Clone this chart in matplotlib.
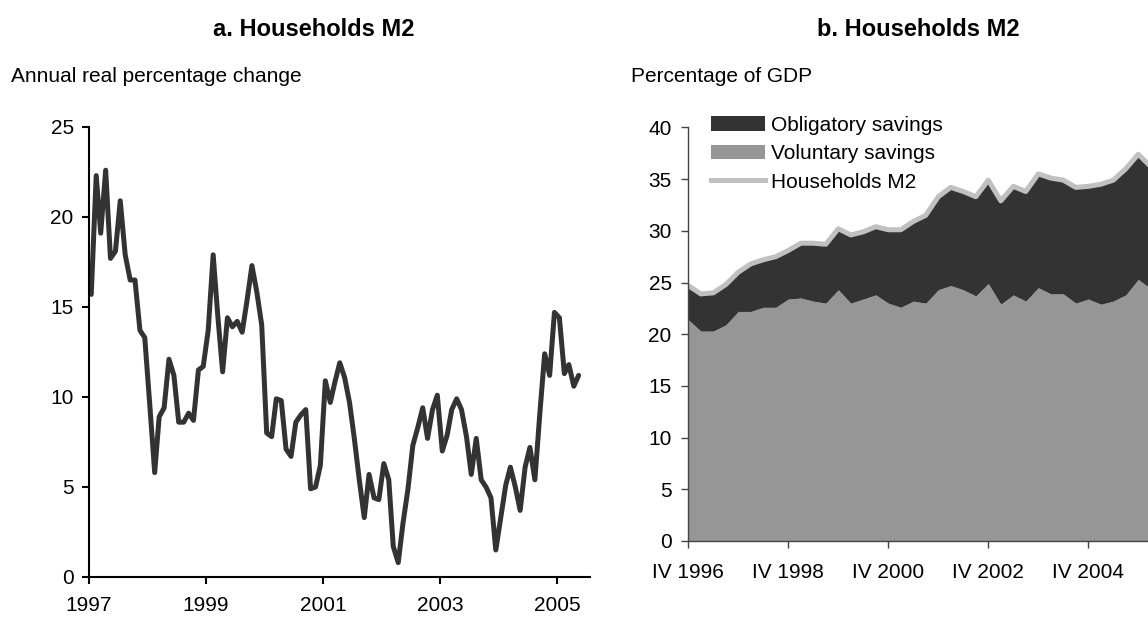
import numpy as np
import pandas as pd
import matplotlib
matplotlib.use('Agg')
import matplotlib.pyplot as plt
from matplotlib.patches import Patch
from matplotlib.lines import Line2D

plt.rcParams['font.family'] = ['Liberation Sans', 'DejaVu Sans']

# Panel a: annual real % change of households M2, monthly Jan 1997 - May 2005
m2_growth = [15.7, 22.3, 19.1, 22.6, 17.7, 18.1, 20.9, 17.9, 16.5, 16.5,
             13.7, 13.3, 9.6, 5.8, 8.9, 9.4, 12.1, 11.2, 8.6, 8.6,
             9.1, 8.7, 11.5, 11.7, 13.7, 17.9, 14.6, 11.4, 14.4, 13.9,
             14.2, 13.6, 15.4, 17.3, 15.8, 14.0, 8.0, 7.8, 9.9, 9.8,
             7.1, 6.7, 8.6, 9.0, 9.3, 4.9, 5.0, 6.2, 10.9, 9.7,
             10.8, 11.9, 11.1, 9.7, 7.7, 5.4, 3.3, 5.7, 4.4, 4.3,
             6.3, 5.4, 1.7, 0.8, 3.0, 4.9, 7.3, 8.3, 9.4, 7.7,
             9.3, 10.1, 7.0, 7.9, 9.3, 9.9, 9.3, 7.8, 5.7, 7.7,
             5.4, 5.0, 4.4, 1.5, 3.3, 5.1, 6.1, 5.0, 3.7, 6.1,
             7.2, 5.4, 9.1, 12.4, 11.2, 14.7, 14.4, 11.3, 11.8, 10.6,
             11.2]
months = pd.date_range('1997-01-01', periods=len(m2_growth), freq='MS') + pd.Timedelta(days=14)
year_ticks = ['1997', '1999', '2001', '2003', '2005']

# Panel b: % of GDP, quarterly from IV 1996
voluntary = [21.4, 20.3, 20.3, 20.9, 22.2, 22.2, 22.6, 22.6, 23.4, 23.5,
             23.2, 23.0, 24.3, 23.0, 23.4, 23.8, 23.0, 22.6, 23.2, 23.0,
             24.3, 24.7, 24.3, 23.7, 24.9, 22.9, 23.8, 23.2, 24.5, 23.9,
             23.9, 23.0, 23.4, 22.9, 23.2, 23.8, 25.3, 24.4]
households_m2 = [24.7, 23.9, 24.0, 24.8, 26.0, 26.8, 27.2, 27.5, 28.1, 28.8,
                 28.8, 28.7, 30.2, 29.6, 29.9, 30.4, 30.1, 30.1, 30.9, 31.5,
                 33.3, 34.2, 33.8, 33.3, 34.9, 32.9, 34.3, 33.8, 35.5, 35.1,
                 34.9, 34.2, 34.3, 34.5, 34.9, 36.0, 37.4, 36.2]
roman = ['IV', 'I', 'II', 'III']
quarters = [f"{roman[i % 4]} {1996 + (i + 3) // 4}" for i in range(len(voluntary))]

dark = '#333333'
mid = '#969696'
light = '#c0c0c0'

fig = plt.figure(figsize=(11.48, 6.17), dpi=100)

# ---- panel a
ax1 = fig.add_axes([89/1148, 40/617, 501/1148, 450/617])
ax1.plot(months, m2_growth, color=dark, lw=3.6, solid_joinstyle='round', solid_capstyle='round')
ax1.set_ylim(0, 25)
ax1.set_yticks(range(0, 26, 5))
ax1.set_xlim(pd.Timestamp('1997-01-01'), pd.Timestamp('2005-07-25'))
ax1.set_xticks([pd.Timestamp(y + '-01-01') for y in year_ticks])
ax1.set_xticklabels(year_ticks)
for s in ['top', 'right']:
    ax1.spines[s].set_visible(False)
for s in ['left', 'bottom']:
    ax1.spines[s].set_linewidth(1.5)
ax1.tick_params(axis='both', labelsize=15, length=5, width=1.5, direction='out')
ax1.tick_params(axis='y', pad=6)
ax1.tick_params(axis='x', pad=9)

# ---- panel b
x = np.arange(len(voluntary))
vol = np.array(voluntary)
tot = np.array(households_m2)
ax2 = fig.add_axes([688.3/1148, 76/617, 462.5/1148, 413.6/617])
ax2.fill_between(x, 0, vol, color=mid, lw=0)
ax2.fill_between(x, vol, tot, color=dark, lw=0)
ax2.plot(x, tot, color=light, lw=3.6, solid_joinstyle='round')
ax2.set_xlim(0, len(voluntary) - 1)
ax2.set_ylim(0, 40)
ax2.set_yticks(range(0, 41, 5))
tick_idx = [0, 8, 16, 24, 32]
ax2.set_xticks(tick_idx)
ax2.set_xticklabels([quarters[i] for i in tick_idx])
for s in ['top', 'right']:
    ax2.spines[s].set_visible(False)
for s in ['left', 'bottom']:
    ax2.spines[s].set_linewidth(1.0)
    ax2.spines[s].set_color('#444444')
ax2.tick_params(axis='both', labelsize=15, length=5, width=1.0, color='#444444', direction='out')
ax2.tick_params(axis='y', pad=7)
ax2.tick_params(axis='x', pad=11)

handles = [Patch(facecolor=dark, edgecolor='none', label='Obligatory savings'),
           Patch(facecolor=mid, edgecolor='none', label='Voluntary savings'),
           Line2D([0], [0], color=light, lw=3.6, label='Households M2')]
fig.legend(handles=handles, loc='upper left', bbox_to_anchor=(711/1148, 1 - 116/617),
           frameon=False, fontsize=15, borderpad=0, borderaxespad=0,
           handlelength=2.6, handleheight=0.7, handletextpad=0.27, labelspacing=0.45)

# ---- titles and unit labels
fig.text(314/1148, 1 - 30/617, 'a. Households M2', ha='center', va='center', fontsize=17, fontweight='bold')
fig.text(918/1148, 1 - 30/617, 'b. Households M2', ha='center', va='center', fontsize=17, fontweight='bold')
fig.text(11/1148, 1 - 77/617, 'Annual real percentage change', ha='left', va='center', fontsize=15)
fig.text(631/1148, 1 - 77/617, 'Percentage of GDP', ha='left', va='center', fontsize=15)

fig.savefig('out.png', dpi=100)
